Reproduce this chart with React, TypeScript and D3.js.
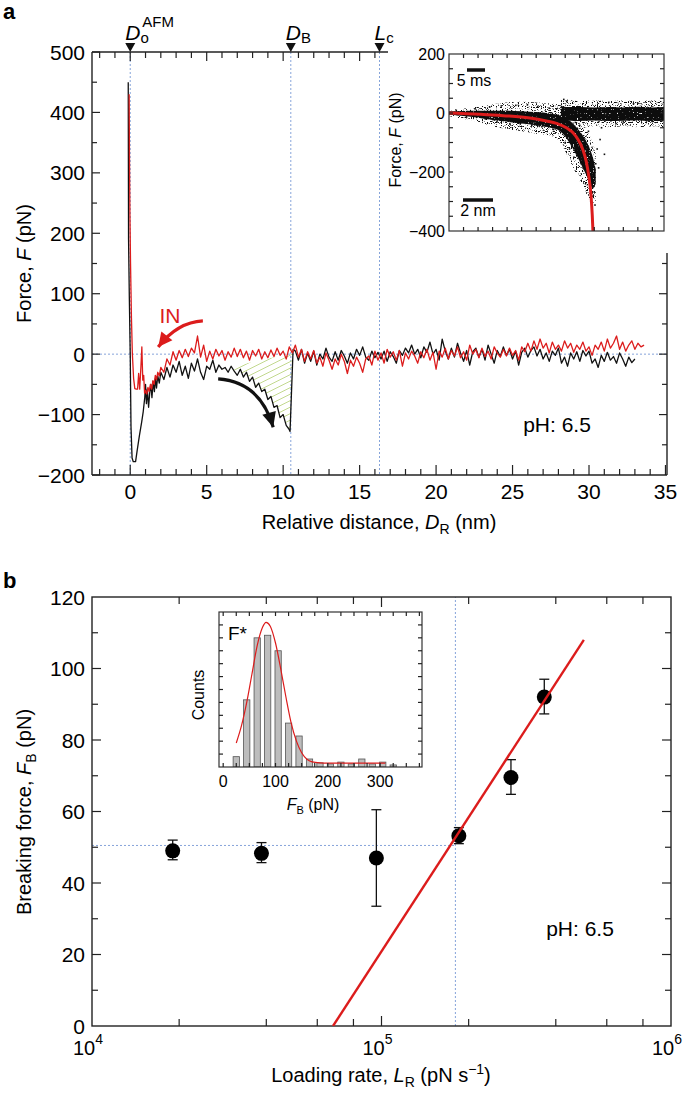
import React from "react";
import * as d3 from "d3";

const FONT = "'Liberation Sans', Arial, Helvetica, sans-serif";
const RED = "#dc1c1c";
const BLUE = "#86a4da";
const HATCH = "#c2d88e";
const STEP = 0.2;

// ===== Panel a : force–distance traces =====
const aXTicks = [0, 5, 10, 15, 20, 25, 30, 35];
const aYTicks = [500, 400, 300, 200, 100, 0, -100, -200];
const aMarkerX = [0, 10.5, 16.3];
const aMarkerMain = ["D", "D", "L"];
const aMarkerSub = ["o", "B", "c"];
const aMarkerSup = ["AFM", "", ""];

// retract (black) trace
const outHead: [number, number][] = [
  [-0.13, 450], [-0.11, 190], [-0.06, 95], [0.0, 0], [0.05, -120], [0.12, -172], [0.2, -178], [0.35, -178],
  [0.45, -160], [0.6, -135], [0.75, -112], [0.85, -95], [0.95, -72], [1.0, -50], [1.06, -82], [1.12, -58],
  [1.2, -88], [1.28, -62], [1.35, -50], [1.42, -72], [1.5, -45], [1.58, -62], [1.65, -40], [1.72, -56],
  [1.8, -36], [1.9, -48],
];
const outBodyStart = 2.0;
const outBody = [
  -30, -42, -22, -38, -18, -30, -12, -35, -20, -40,
  -15, -28, -8, -30, -42, -20, -25, -10, -30, -18,
  -25, -22, -30, -20, -28, -35, -25, -38, -30, -45,
  -38, -55, -48, -62, -58, -75, -70, -88, -85, -105,
  -100, -118, -125,
];
const outRupture: [number, number][] = [[10.45, -128], [10.65, 8]];
const outTailStart = 10.8;
const outTail = [
  5, -10, 8, -15, 2, -12, 5, -18, 0, -8,
  10, -5, -12, 4, -10, 6, -3, -15, 2, -8,
  8, -2, 12, -5, -10, 5, -6, 3, -8, 5,
  -12, 4, -4, -15, 6, -2, 10, 2, 15, 0,
  8, -6, 12, 3, 20, 0, 8, -10, 25, 5,
  -8, 10, -5, 18, 2, -12, 6, -18, 4, 10,
  -5, 8, -10, 15, 0, -15, 6, -4, 12, -2,
  8, -8, 5, -18, 3, 10, -5, 6, 12, -3,
  8, -8, 2, -12, 5, -2, 10, -15, -5, -20,
  2, -8, 4, -12, 6, -3, 5, -15, -8, -22,
  -2, -12, 3, -10, -4, -15, 2, -8, -20, -5,
  -14, -8,
];

// approach (red, "IN") trace
const inHead: [number, number][] = [
  [-0.07, 430], [-0.05, 330], [-0.02, 230], [0.02, 150], [0.08, 60], [0.14, 0], [0.22, -40], [0.3, -57],
  [0.4, -58], [0.48, -58], [0.55, -32], [0.62, -58], [0.7, -20], [0.76, 12], [0.82, -43], [0.88, -35],
  [0.94, -65], [1.0, -60], [1.08, -66], [1.16, -55], [1.24, -62], [1.32, -50], [1.4, -58], [1.48, -44],
  [1.56, -50], [1.64, -35], [1.72, -42], [1.8, -30], [1.9, -36],
];
const inBodyStart = 2.0;
const inBody = [
  -22, -30, -8, -18, 4, -10, 6, -6, 8, -4,
  10, 2, 30, -5, 15, -12, 5, -8, 8, -3,
  6, -10, 4, -5, 10, -4, 8, -6, 5, -10,
  6, -3, 8, -8, 4, -6, 7, -4, 10, -2,
  5, -8, 12, 2, 15, -5, 8, -12, 4, -8,
  6, -15, -5, -20, 2, -10, -25, -8, -18, 0,
  -12, -32, -10, -20, -5, -15, -30, -8, -3, -18,
  5, -10, 2, -15, 8, -5, 4, -10, 6, -20,
  2, -8, 5, -3, -15, 4, -6, 8, -10, 3,
  -25, 5, -5, 10, -8, 6, -3, 12, -6, 4,
  -10, 15, 0, 8, -6, 10, -4, 5, -8, 12,
  2, -5, 8, -3, 10, -2, 6, -10, 12, 4,
  18, 5, 22, 8, 25, 10, 18, 2, 20, 8,
  15, 5, 22, 10, 18, 3, 15, 8, 20, 5,
  12, -2, 15, 8, 20, 5, 25, 10, 18, 30,
  8, 20, 5, 15, 22, 8, 18, 12, 15,
];

const hatchTop: [number, number][] = [[10.62, 2], [6.8, -20]];
const outArrow: [number, number][] = [[5.75, -41], [8.5, -46], [9.35, -121]];
const inArrow: [number, number][] = [[4.75, 55], [3.1, 53], [1.83, 12]];

// ===== Panel a inset =====
const insYTicks = [200, 0, -200, -400];
const insRedX = [0, 3.73, 5.56, 6.7, 7.4, 8.08, 8.54, 8.88, 9.22, 9.45, 9.63, 9.77, 9.86, 9.91];
const insRedF = [0, -9, -17, -27, -35, -50, -67, -90, -125, -165, -217, -275, -345, -400];
const bandX = [0, 1, 2, 3, 4, 5, 6, 7, 7.6, 8.0, 8.4, 8.8, 9.2, 9.6, 9.9, 10.1];
const coreHi = [6, 7, 8, 8, 8, 6, 3, -2, -8, -18, -30, -50, -75, -110, -150, -190];
const coreLo = [-6, -10, -16, -24, -30, -36, -42, -50, -60, -80, -110, -145, -185, -225, -255, -240];
const outerHi = [12, 16, 22, 30, 36, 38, 36, 32, 28, 18, 0, -20, -40, -70, -100, -140];
const outerLo = [-12, -20, -30, -45, -55, -62, -70, -80, -95, -130, -170, -210, -250, -290, -310, -300];
const flatX = [7.7, 8.2, 9, 10, 11, 12, 13, 14, 14.8];
const flatCoreHi = [25, 20, 20, 19, 20, 19, 21, 19, 20];
const flatCoreLo = [-18, -25, -27, -25, -27, -26, -25, -27, -26];
const flatOuterHi = [48, 45, 40, 42, 40, 42, 40, 42, 40];
const flatOuterLo = [-35, -45, -50, -45, -48, -45, -48, -45, -48];
const insDots: [number, number][] = [
  [0.5, 9], [1.2, -13], [1.8, 14], [2.5, -20], [2.8, 20], [3.3, -30], [3.6, 24], [4.2, -38], [4.6, 26],
  [4.9, -36], [5.4, 28], [5.7, -42], [6.1, 22], [6.4, -46], [6.9, 16], [7.2, -56], [7.4, 14], [8.0, -100],
  [8.3, -122], [8.6, -150], [8.9, -95], [9.1, -172], [9.3, -132], [9.5, -198], [9.7, -252], [9.9, -215],
  [10.0, -268], [10.1, -172], [10.2, -122], [10.3, -186], [9.85, -282], [10.05, -312], [8.7, -32],
  [7.9, 46], [8.1, 40], [9.0, -42], [9.6, -62], [10.5, -50], [11, 36], [12, -30], [13, 33], [14, -29],
  [11.5, -36], [12.7, 31], [13.6, -27], [10.4, -90], [10.7, -140], [9.4, -240],
];

// ===== Panel b : breaking force vs loading rate =====
const bYTicks = [0, 20, 40, 60, 80, 100, 120];
const bXMajor = [1e4, 1e5, 1e6];
const bXMajorExp = ["4", "5", "6"];
const bXMinor = [2e4, 4e4, 6e4, 8e4, 2e5, 4e5, 6e5, 8e5];
const loadingRate = [1.9e4, 3.85e4, 9.6e4, 1.85e5, 2.8e5, 3.65e5];
const breakForce = [49, 48.3, 47, 53.2, 69.5, 92];
const errLow = [46.5, 45.7, 33.5, 51, 64.8, 87.3];
const errHigh = [52, 51.3, 60.5, 55.5, 74.5, 97];
const fitLR = [6.8e4, 5.0e5];
const fitF = [0, 108];
const crossLR = 1.8e5;
const crossF = 50.5;

// ===== Panel b inset histogram =====
const histCenters = [25, 45, 65, 85, 105, 125, 145, 165, 185, 205, 225, 245, 265, 285, 305, 325];
const histCounts = [4, 26, 50, 51, 45, 17, 12, 3.1, 1.6, 1.2, 1.9, 1.2, 3.1, 1.2, 1.9, 0.8];
const histXTicks = [0, 100, 200, 300];
const histFitX = [25, 35, 45, 55, 65, 75, 82, 90, 100, 110, 120, 130, 140, 150, 160, 170, 185, 200, 250, 310];
const histFitY = [9.3, 16, 25, 36, 47, 54, 56, 54.5, 48, 38, 27, 17, 10, 5.5, 3, 2, 1.6, 1.5, 1.5, 1.5];

type P = [number, number];

function headPoly(ctrl: P, tip: P, len: number, half: number): string {
  const dx = tip[0] - ctrl[0];
  const dy = tip[1] - ctrl[1];
  const d = Math.hypot(dx, dy);
  const ux = dx / d, uy = dy / d;
  const bx = tip[0] - ux * len, by = tip[1] - uy * len;
  return `${tip[0]},${tip[1]} ${bx - uy * half},${by + ux * half} ${bx + uy * half},${by - ux * half}`;
}

export default function App() {
  const xA = d3.scaleLinear().domain([-2.5, 35.1]).range([92, 667]);
  const yA = d3.scaleLinear().domain([-200, 500]).range([475, 52]);
  const xI = d3.scaleLinear().domain([0, 14.8]).range([449, 664]);
  const yI = d3.scaleLinear().domain([-400, 200]).range([231, 54]);
  const xB = d3.scaleLog().domain([1e4, 1e6]).range([92, 671]);
  const yB = d3.scaleLinear().domain([0, 120]).range([1026, 597]);
  const xH = d3.scaleLinear().domain([-8, 380]).range([219, 422]);
  const yH = d3.scaleLinear().domain([0, 60]).range([767, 612]);

  const outPts: P[] = [
    ...outHead,
    ...outBody.map((v, i) => [outBodyStart + i * STEP, v] as P),
    ...outRupture,
    ...outTail.map((v, i) => [outTailStart + i * STEP, v] as P),
  ];
  const inPts: P[] = [
    ...inHead,
    ...inBody.map((v, i) => [inBodyStart + i * STEP, v] as P),
  ];
  const lineA = d3.line<P>().x((d) => xA(d[0])).y((d) => yA(d[1]));

  const hatchPts: P[] = [
    ...outPts.filter((d) => d[0] >= 6.8 && d[0] <= 10.45),
    ...hatchTop,
  ];
  const hatchPath = lineA(hatchPts) + "Z";
  const hx0 = xA(6.4), hx1 = xA(11);
  const hatchLines = d3.range(0, 24).map((i) => {
    const y0 = yA(-10) + i * 6.5;
    return { x1: hx0, y1: y0, x2: hx1, y2: y0 - (hx1 - hx0) * 0.5 };
  });

  const arrowPx = (a: P[]) => a.map((d) => [xA(d[0]), yA(d[1])] as P);
  const oa = arrowPx(outArrow);
  const ia = arrowPx(inArrow);
  const qPath = (a: P[]) => `M${a[0][0]},${a[0][1]} Q${a[1][0]},${a[1][1]} ${a[2][0]},${a[2][1]}`;

  const insRed = d3.line<number>().x((_, i) => xI(insRedX[i])).y((d) => yI(d)).curve(d3.curveMonotoneX)(insRedF);
  const mkArea = (xs: number[], lo: number[], hi: number[]) =>
    d3.area<number>().x((_, i) => xI(xs[i])).y0((_, i) => yI(lo[i])).y1((d) => yI(d)).curve(d3.curveMonotoneX)(hi) || "";
  const coreBand = mkArea(bandX, coreLo, coreHi);
  const outerBand = mkArea(bandX, outerLo, outerHi);
  const flatCore = mkArea(flatX, flatCoreLo, flatCoreHi);
  const flatOuter = mkArea(flatX, flatOuterLo, flatOuterHi);

  const fitPath = d3.line<number>().x((d) => xB(d)).y((_, i) => yB(fitF[i]))(fitLR);
  const histFit = d3.line<number>().x((d) => xH(d)).y((_, i) => yH(histFitY[i])).curve(d3.curveMonotoneX)(histFitX);
  const barW = xH(12) - xH(0);

  const axisStroke = { stroke: "#222", strokeWidth: 1.4, fill: "none" };
  const tick = { stroke: "#222", strokeWidth: 1.2 };

  const aMinorY = d3.range(-200, 501, 50);
  const aRightY = d3.range(-150, 151, 50);
  const aTopX = d3.range(-2, 17, 1);
  const aBotX = d3.range(-2, 36, 1);
  const insLR = d3.range(-350, 200, 50);
  const insTB = d3.range(1, 15, 1);
  const bMinorY = d3.range(10, 120, 10);
  const hY = d3.range(5, 60, 5);
  const hX = d3.range(0, 376, 25);

  const topA = yA(500), botA = yA(-200), leftA = xA(-2.5), rightA = xA(35.1);
  const rightTop = 253;

  return (
    <svg width={685} height={1095} style={{ position: "absolute", left: 0, top: 0 }} fontFamily={FONT}>
      <rect x={0} y={0} width={685} height={1095} fill="#fff" />
      <defs>
        <clipPath id="hatchClip"><path d={hatchPath} /></clipPath>
        <clipPath id="insClip"><rect x={449} y={54} width={215} height={177} /></clipPath>
        <clipPath id="histClip"><rect x={219} y={612} width={203} height={155} /></clipPath>
        <clipPath id="bClip"><rect x={92} y={597} width={579} height={429} /></clipPath>
        <filter id="speckDense" filterUnits="userSpaceOnUse" x={449} y={54} width={215} height={177}>
          <feTurbulence type="fractalNoise" baseFrequency="0.75" numOctaves={1} seed={4} result="n" />
          <feColorMatrix in="n" type="matrix" values="0 0 0 0 0  0 0 0 0 0  0 0 0 0 0  9 0 0 0 -2.2" result="m" />
          <feComposite in="SourceGraphic" in2="m" operator="in" />
        </filter>
        <filter id="speckSparse" filterUnits="userSpaceOnUse" x={449} y={54} width={215} height={177}>
          <feTurbulence type="fractalNoise" baseFrequency="0.8" numOctaves={1} seed={11} result="n" />
          <feColorMatrix in="n" type="matrix" values="0 0 0 0 0  0 0 0 0 0  0 0 0 0 0  12 0 0 0 -6.6" result="m" />
          <feComposite in="SourceGraphic" in2="m" operator="in" />
        </filter>
      </defs>

      {/* ================= Panel a ================= */}
      <text x={3} y={19} fontSize={22} fontWeight="bold">a</text>

      {aMarkerX.map((m, i) => (
        <line key={"dv" + i} x1={xA(m)} x2={xA(m)} y1={topA} y2={botA} stroke={BLUE} strokeWidth={1} strokeDasharray="2,2" />
      ))}
      <line x1={leftA} x2={rightA} y1={yA(0)} y2={yA(0)} stroke={BLUE} strokeWidth={1} strokeDasharray="2,2" />

      <g clipPath="url(#hatchClip)">
        {hatchLines.map((l, i) => (
          <line key={"h" + i} x1={l.x1} y1={l.y1} x2={l.x2} y2={l.y2} stroke={HATCH} strokeWidth={1} />
        ))}
      </g>

      <path d={lineA(outPts) || ""} fill="none" stroke="#111" strokeWidth={1.3} strokeLinejoin="round" />
      <path d={lineA(inPts) || ""} fill="none" stroke={RED} strokeWidth={1.3} strokeLinejoin="round" />

      <path d={qPath(oa)} fill="none" stroke="#111" strokeWidth={3.2} />
      <polygon points={headPoly(oa[1], oa[2], 15, 7)} fill="#111" />
      <path d={qPath(ia)} fill="none" stroke={RED} strokeWidth={3.2} />
      <polygon points={headPoly(ia[1], ia[2], 14, 7)} fill={RED} />
      <text x={xA(2.6)} y={yA(52)} fontSize={21} fill={RED} textAnchor="middle">IN</text>

      <line x1={leftA} x2={leftA} y1={topA} y2={botA} {...axisStroke} />
      <line x1={leftA} x2={388} y1={topA} y2={topA} {...axisStroke} />
      <line x1={leftA} x2={rightA} y1={botA} y2={botA} {...axisStroke} />
      <line x1={rightA} x2={rightA} y1={rightTop} y2={botA} {...axisStroke} />
      {aMinorY.map((v) => (
        <line key={"ly" + v} x1={leftA} x2={leftA + (v % 100 === 0 ? 8 : 5)} y1={yA(v)} y2={yA(v)} {...tick} />
      ))}
      {aRightY.map((v) => (
        <line key={"ry" + v} x1={rightA} x2={rightA - (v % 100 === 0 ? 8 : 5)} y1={yA(v)} y2={yA(v)} {...tick} />
      ))}
      {aTopX.map((v) => (
        <line key={"tx" + v} x1={xA(v)} x2={xA(v)} y1={topA} y2={topA + (v % 5 === 0 ? 9 : 6)} {...tick} />
      ))}
      {aBotX.map((v) => (
        <line key={"bx" + v} x1={xA(v)} x2={xA(v)} y1={botA} y2={botA - (v % 5 === 0 ? 10 : 6)} {...tick} />
      ))}
      {aYTicks.map((v) => (
        <text key={"yl" + v} x={85} y={yA(v)} fontSize={21} textAnchor="end" dominantBaseline="central">
          {v < 0 ? "\u2212" + Math.abs(v) : v}
        </text>
      ))}
      {aXTicks.map((v) => (
        <text key={"xl" + v} x={xA(v)} y={491} fontSize={21} textAnchor="middle" dominantBaseline="central">{v}</text>
      ))}
      <text x={379} y={529} fontSize={20} textAnchor="middle">
        Relative distance, <tspan fontStyle="italic">D</tspan>
        <tspan fontSize={14} dy={5}>R</tspan>
        <tspan dy={-5}> (nm)</tspan>
      </text>
      <text transform={`translate(31,${(topA + botA) / 2}) rotate(-90)`} fontSize={20} textAnchor="middle">
        Force, <tspan fontStyle="italic">F</tspan> (pN)
      </text>

      {aMarkerX.map((m, i) => {
        const x = xA(m);
        return (
          <g key={"mk" + i}>
            <polygon points={`${x - 5},${topA - 9} ${x + 5},${topA - 9} ${x},${topA}`} fill="#111" />
            <text x={x - 5} y={40} fontSize={21}>
              <tspan fontStyle="italic">{aMarkerMain[i]}</tspan>
              <tspan fontSize={15} dy={3}>{aMarkerSub[i]}</tspan>
            </text>
            {aMarkerSup[i] && (
              <text x={x + 12} y={27} fontSize={15}>{aMarkerSup[i]}</text>
            )}
          </g>
        );
      })}

      <text x={557} y={432} fontSize={21} textAnchor="middle">pH: 6.5</text>

      {/* ---------- inset a ---------- */}
      <g clipPath="url(#insClip)">
        <g filter="url(#speckSparse)">
          <path d={outerBand} fill="#111" />
          <path d={flatOuter} fill="#111" />
        </g>
        <g filter="url(#speckDense)">
          <path d={coreBand} fill="#111" />
          <path d={flatCore} fill="#111" />
        </g>
        {insDots.map((d, i) => (
          <rect key={"dot" + i} x={xI(d[0]) - 0.8} y={yI(d[1]) - 0.8} width={1.6} height={1.6} fill="#111" />
        ))}
        <path d={insRed || ""} fill="none" stroke={RED} strokeWidth={3} />
      </g>
      <rect x={449} y={54} width={215} height={177} fill="none" stroke="#333" strokeWidth={1.2} />
      {insLR.map((v) => (
        <g key={"il" + v}>
          <line x1={449} x2={449 + 4} y1={yI(v)} y2={yI(v)} {...tick} />
          <line x1={664} x2={664 - 4} y1={yI(v)} y2={yI(v)} {...tick} />
        </g>
      ))}
      {insTB.map((v) => (
        <g key={"it" + v}>
          <line x1={xI(v)} x2={xI(v)} y1={54} y2={58} {...tick} />
          <line x1={xI(v)} x2={xI(v)} y1={231} y2={227} {...tick} />
        </g>
      ))}
      {insYTicks.map((v) => (
        <text key={"iy" + v} x={445} y={yI(v)} fontSize={16} textAnchor="end" dominantBaseline="central">
          {v < 0 ? "\u2212" + Math.abs(v) : v}
        </text>
      ))}
      <text transform={`translate(401,140) rotate(-90)`} fontSize={16} textAnchor="middle">
        Force, <tspan fontStyle="italic">F</tspan> (pN)
      </text>
      <line x1={467} x2={485} y1={70} y2={70} stroke="#111" strokeWidth={3.5} />
      <text x={474} y={86} fontSize={16} textAnchor="middle">5 ms</text>
      <line x1={463} x2={493} y1={200} y2={200} stroke="#111" strokeWidth={3.5} />
      <text x={478} y={216} fontSize={16} textAnchor="middle">2 nm</text>

      {/* ================= Panel b ================= */}
      <text x={3} y={588} fontSize={22} fontWeight="bold">b</text>

      <line x1={xB(1e4)} x2={xB(crossLR)} y1={yB(crossF)} y2={yB(crossF)} stroke={BLUE} strokeWidth={1} strokeDasharray="2,2" />
      <line x1={xB(crossLR)} x2={xB(crossLR)} y1={yB(0)} y2={yB(120)} stroke={BLUE} strokeWidth={1} strokeDasharray="2,2" />

      <rect x={92} y={yB(120)} width={579} height={yB(0) - yB(120)} fill="none" stroke="#222" strokeWidth={1.4} />
      {bMinorY.map((v) => (
        <g key={"by" + v}>
          <line x1={92} x2={92 + (v % 20 === 0 ? 9 : 6)} y1={yB(v)} y2={yB(v)} {...tick} />
          <line x1={671} x2={671 - (v % 20 === 0 ? 9 : 6)} y1={yB(v)} y2={yB(v)} {...tick} />
        </g>
      ))}
      {[...bXMinor, 1e5].map((v) => (
        <g key={"bx" + v}>
          <line x1={xB(v)} x2={xB(v)} y1={yB(120)} y2={yB(120) + (v === 1e5 ? 10 : 7)} {...tick} />
          <line x1={xB(v)} x2={xB(v)} y1={yB(0)} y2={yB(0) - (v === 1e5 ? 10 : 7)} {...tick} />
        </g>
      ))}
      {bYTicks.map((v) => (
        <text key={"byl" + v} x={85} y={yB(v)} fontSize={21} textAnchor="end" dominantBaseline="central">{v}</text>
      ))}
      {bXMajor.map((v, i) => (
        <text key={"bxl" + v} x={xB(v) - 4} y={1048} fontSize={20} textAnchor="middle" dominantBaseline="central">
          10<tspan fontSize={14} dy={-9}>{bXMajorExp[i]}</tspan>
        </text>
      ))}
      <text x={381} y={1082} fontSize={20} textAnchor="middle">
        Loading rate, <tspan fontStyle="italic">L</tspan>
        <tspan fontSize={14} dy={5}>R</tspan>
        <tspan dy={-5}> (pN s</tspan>
        <tspan fontSize={14} dy={-8}>{"\u22121"}</tspan>
        <tspan dy={8}>)</tspan>
      </text>
      <text transform={`translate(31,812) rotate(-90)`} fontSize={20} textAnchor="middle">
        Breaking force, <tspan fontStyle="italic">F</tspan>
        <tspan fontSize={14} dy={5}>B</tspan>
        <tspan dy={-5}> (pN)</tspan>
      </text>

      {loadingRate.map((lr, i) => {
        const x = xB(lr);
        return (
          <g key={"pt" + i}>
            <line x1={x} x2={x} y1={yB(errLow[i])} y2={yB(errHigh[i])} stroke="#111" strokeWidth={1.3} />
            <line x1={x - 5} x2={x + 5} y1={yB(errLow[i])} y2={yB(errLow[i])} stroke="#111" strokeWidth={1.3} />
            <line x1={x - 5} x2={x + 5} y1={yB(errHigh[i])} y2={yB(errHigh[i])} stroke="#111" strokeWidth={1.3} />
            <circle cx={x} cy={yB(breakForce[i])} r={7.5} fill="#000" />
          </g>
        );
      })}
      <path d={fitPath || ""} fill="none" stroke={RED} strokeWidth={2.4} clipPath="url(#bClip)" />
      <text x={580} y={936} fontSize={21} textAnchor="middle">pH: 6.5</text>

      {/* ---------- inset b histogram ---------- */}
      <rect x={219} y={612} width={203} height={155} fill="#fff" />
      <g clipPath="url(#histClip)">
        {histCenters.map((c, i) => (
          <rect key={"bar" + i} x={xH(c) - barW / 2} y={yH(histCounts[i])} width={barW} height={yH(0) - yH(histCounts[i])}
            fill="#bdbdbd" stroke="#555" strokeWidth={0.8} />
        ))}
        <path d={histFit || ""} fill="none" stroke={RED} strokeWidth={1.2} />
      </g>
      <rect x={219} y={612} width={203} height={155} fill="none" stroke="#333" strokeWidth={1.2} />
      {hY.map((v) => (
        <g key={"hy" + v}>
          <line x1={219} x2={223} y1={yH(v)} y2={yH(v)} {...tick} />
          <line x1={422} x2={418} y1={yH(v)} y2={yH(v)} {...tick} />
        </g>
      ))}
      {hX.map((v) => (
        <g key={"hx" + v}>
          <line x1={xH(v)} x2={xH(v)} y1={612} y2={616} {...tick} />
          <line x1={xH(v)} x2={xH(v)} y1={767} y2={763} {...tick} />
        </g>
      ))}
      {histXTicks.map((v) => (
        <text key={"hxl" + v} x={xH(v)} y={781} fontSize={16} textAnchor="middle" dominantBaseline="central">{v}</text>
      ))}
      <text x={313} y={810} fontSize={16} textAnchor="middle">
        <tspan fontStyle="italic">F</tspan>
        <tspan fontSize={11} dy={4}>B</tspan>
        <tspan dy={-4}> (pN)</tspan>
      </text>
      <text transform={`translate(204,695) rotate(-90)`} fontSize={16} textAnchor="middle">Counts</text>
      <text x={228} y={640} fontSize={19}>F*</text>
    </svg>
  );
}
